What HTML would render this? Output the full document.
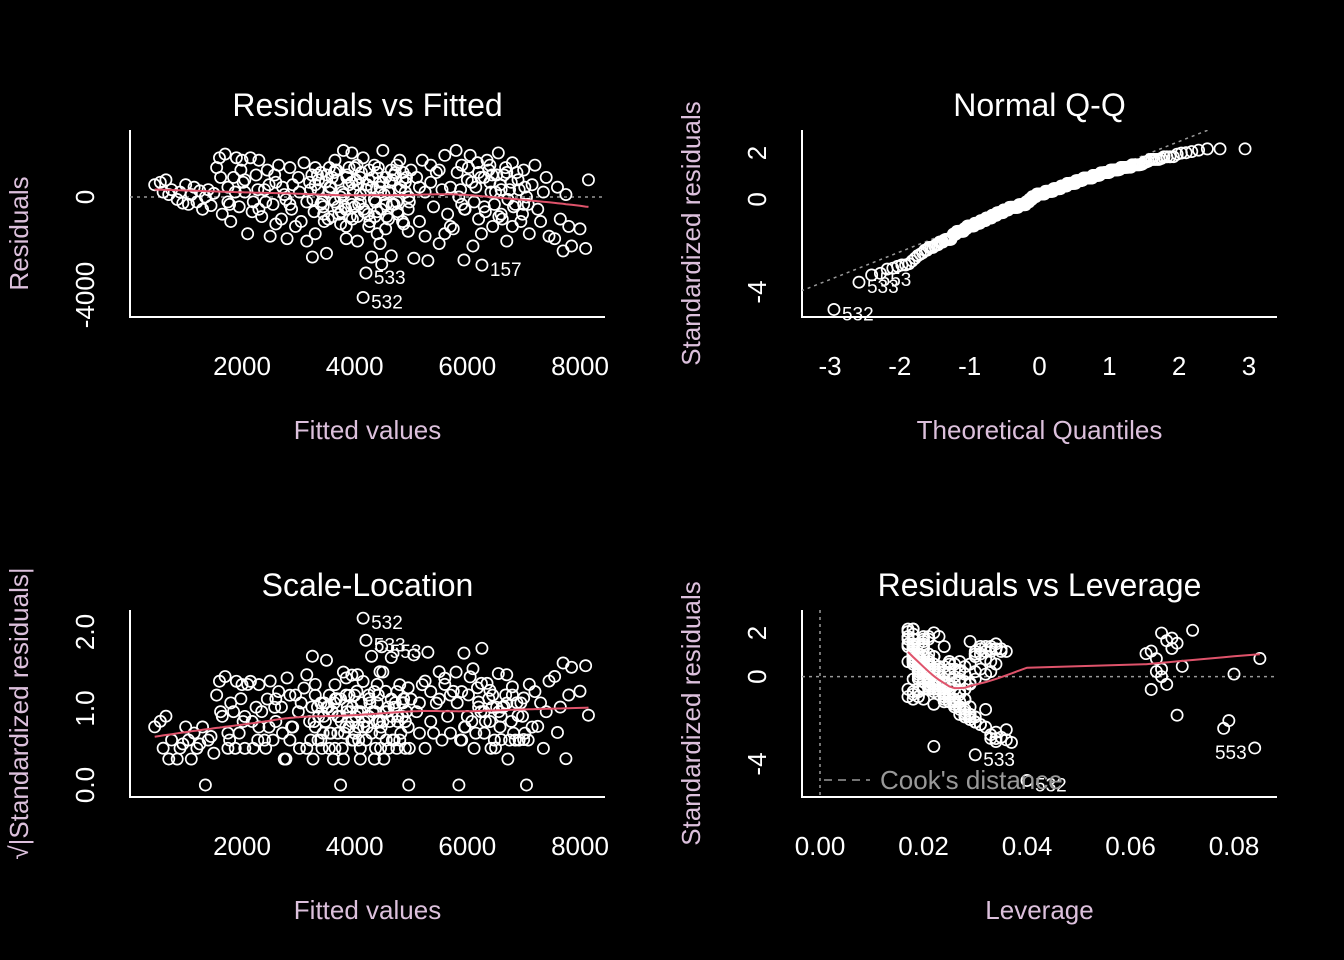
<!DOCTYPE html>
<html><head><meta charset="utf-8"><style>
html,body{margin:0;padding:0;background:#000;}
svg{display:block;font-family:"Liberation Sans",Arial,sans-serif;}
</style></head><body>
<svg id="chart" width="1344" height="960" viewBox="0 0 1344 960">
<rect x="0" y="0" width="1344" height="960" fill="#000"/>
</svg>
<script>
// ---- data (labelled observations first) ----
const obsNames = ['532','533','157','553'];
const sigma = 880;
const fitted = [4150,4200,6259,4480,
 450,550,650,750,850,900,1000,1050,1100,1150,1200,1250,1300,1350,1400,1450,700,950,1500,600,
 1550,1600,1650,1700,1750,1800,1850,1900,1950,2000,2050,2100,2150,2200,2250,2300,2350,2400,2450,2500,2550,2600,2650,2700,2750,2800,2850,2900,2950,3000,1750,2050,2300,2600,2850,
 3050,3100,3150,3200,3250,3300,3350,3400,3450,3500,3550,3600,3650,3700,3750,3800,3850,3900,3950,4000,4050,4100,4250,4300,4350,4400,4450,4500,4550,4600,4650,4700,4750,4800,4850,4900,4950,5000,
 3300,3500,3700,3900,4100,4300,4500,4700,4900,3400,3600,3800,4000,4200,4400,4600,4800,3550,3750,3950,4150,4350,4550,4750,4950,4050,3850,4450,3150,4250,4650,3300,3650,4100,4400,3950,4850,
 5050,5100,5150,5200,5250,5300,5350,5400,5450,5500,5550,5600,5650,5700,5750,5800,5850,5900,5940,5950,6000,5250,5500,5700,5900,5150,5350,5600,
 6050,6100,6150,6200,6300,6350,6400,6450,6500,6550,6600,6650,6700,6750,6800,6850,6900,6950,7000,7050,7100,7150,7200,7250,7300,7350,7400,7450,6200,6400,6600,6800,7000,6300,6700,6250,
 7550,7600,7700,7800,7850,8000,8100,7650,7750,8150,
 3220,3280,3340,3420,3480,3530,3580,3620,3680,3720,3780,3820,3870,3920,3980,4020,4070,4120,4170,4220,4270,4320,4370,4420,4470,4520,4570,4620,4670,4720,4770,4820,4870,4920,4970,3260,3360,3460,3560,3660,3760,3860,3960,4060,4160,4260,4360,4460,4560,4660,4760,4860,4960,3240,3440,3640,3840,4040,4240,4440,
 5820,5880,5960,6020,6080,6120,6180,6240,6320,6380,6420,6480,6520,6580,6620,6680,6720,6780,6820,6880,6920,6980,7020,7080,1620,1780,1880,2020,2180,2280,2420,2580,2720,2880,3020,1980,2480,2780,6440,6560];
const resid = [-4100,-3100,-2780,-2750,
 500,600,700,300,-100,200,500,-300,100,400,-200,250,-500,0,300,-350,100,-250,150,200,
 1200,1600,-700,1750,400,-1000,800,1600,-400,1500,200,-1500,1600,-200,900,1500,-800,300,1100,-1600,-300,600,1300,-900,100,-1700,-300,500,-1200,800,-200,700,-500,-1100,1200,
 -1000,1400,-200,600,-2450,-1500,300,1000,-700,-2300,200,800,1500,-400,0,1900,-1200,500,-300,1200,-800,100,700,-2450,1300,-600,400,1900,-1300,200,-2400,900,-200,1500,-1000,600,-500,1100,
 500,900,700,1200,800,400,600,-300,200,-300,-800,100,-400,300,1000,-900,300,1200,-1100,600,1600,-100,800,1300,-1400,-1800,-1700,-1900,-1800,-1200,1100,1200,-200,-200,-1500,1800,700,
 -2500,800,-1000,1500,200,-2600,600,-400,1000,-1900,300,1700,-700,400,-1300,1900,0,1300,-2570,-500,700,-1600,1100,-1200,-300,400,1300,-1500,
 1700,-2000,400,1000,-400,1500,600,-1200,200,1800,-700,900,-1800,300,1400,-300,700,-1000,1100,0,-1500,500,1300,-500,-1000,200,800,-1600,-900,1300,300,-1200,-300,800,1000,-1500,
 -1700,400,-2200,-1200,-2000,-1300,-2100,-900,100,700,
 300,-600,900,-200,600,-900,400,-100,1100,-700,200,-400,900,-800,300,700,-300,1000,-600,500,-1000,800,-200,1200,-500,100,-800,600,-300,1000,-700,400,-1100,800,-200,-100,700,-1000,400,1100,-600,800,-900,500,-500,1100,-800,200,-300,700,-600,1000,0,900,-400,1000,-500,1300,-700,600,
 1000,300,-500,1200,600,-200,1400,800,-600,1100,200,-300,900,500,-900,1200,-100,600,-400,1000,300,-700,400,-300,800,-300,200,600,-600,300,-200,900,400,-500,200,1100,500,-100,900,-800];
const leverage = [.040,.030,.022,.084,
 .034,.033,.032,.031,.030,.030,.029,.029,.028,.028,.027,.027,.026,.026,.026,.025,.032,.029,.025,.033,
 .024,.023,.025,.022,.024,.026,.022,.021,.024,.021,.023,.027,.020,.023,.021,.020,.025,.022,.020,.028,.023,.021,.020,.026,.022,.029,.023,.021,.027,.020,.024,.021,.024,.026,.020,
 .026,.020,.022,.019,.034,.028,.019,.018,.024,.033,.019,.018,.018,.021,.019,.018,.026,.018,.021,.018,.024,.019,.018,.033,.018,.022,.019,.017,.027,.019,.035,.018,.020,.017,.025,.018,.022,.018,
 .019,.018,.018,.017,.018,.019,.018,.021,.019,.021,.024,.019,.022,.019,.018,.024,.019,.018,.026,.018,.017,.020,.018,.017,.028,.030,.029,.031,.030,.027,.018,.018,.021,.021,.029,.017,.018,
 .036,.019,.025,.018,.020,.037,.019,.022,.018,.031,.020,.018,.024,.020,.028,.018,.021,.018,.034,.023,.019,.029,.018,.027,.022,.020,.018,.029,
 .066,.032,.020,.064,.022,.068,.020,.026,.065,.072,.024,.063,.030,.021,.067,.023,.065,.027,.068,.066,.029,.020,.019,.064,.027,.021,.019,.030,.026,.069,.066,.027,.067,.020,.018,.069,
 .079,.070,.034,.029,.078,.032,.036,.028,.080,.085,
 .022,.018,.031,.020,.017,.028,.021,.019,.034,.018,.027,.020,.030,.019,.025,.018,.022,.033,.019,.021,.026,.018,.024,.032,.017,.023,.019,.027,.021,.035,.025,.020,.022,.030,.028,.021,.018,.024,.020,.031,.019,.022,.018,.025,.020,.033,.017,.027,.021,.019,.024,.036,.026,.030,.022,.032,.028,.034,.023,.021,
 .030,.023,.021,.033,.025,.020,.029,.022,.027,.035,.024,.021,.018,.026,.020,.031,.018,.025,.021,.032,.023,.027,.020,.024,.020,.026,.022,.019,.024,.021,.028,.018,.023,.025,.020,.034,.022,.027,.019,.024];
const fitTicks = [2000,4000,6000,8000];
const residTicks = [0,-4000];
const qTicks = [-3,-2,-1,0,1,2,3];
const stdTicks = [2,0,-4];
const sqrtTicks = [0,1,2];
const sqrtTickLabels = ['0.0','1.0','2.0'];
const levTicks = [0,0.02,0.04,0.06,0.08];
const levTickLabels = ['0.00','0.02','0.04','0.06','0.08'];

// ---- helpers ----
const svg = document.getElementById('chart');
const NS = 'http://www.w3.org/2000/svg';
function mk(tag, attrs, parent){const e=document.createElementNS(NS,tag);for(const k in attrs)e.setAttribute(k,attrs[k]);(parent||svg).appendChild(e);return e;}
function lin(d0,d1,r0,r1){return v=>r0+(v-d0)*(r1-r0)/(d1-d0);}
function qnorm(p){const a=[-39.69683028665376,220.9460984245205,-275.9285104469687,138.357751867269,-30.66479806614716,2.506628277459239],b=[-54.47609879822406,161.5858368580409,-155.6989798598866,66.80131188771972,-13.28068155288572],c=[-0.007784894002430293,-0.3223964580411365,-2.400758277161838,-2.549732539343734,4.374664141464968,2.938163982698783],d=[0.007784695709041462,0.3224671290700398,2.445134137142996,3.754408661907416];const pl=0.02425;let q,r;if(p<pl){q=Math.sqrt(-2*Math.log(p));return(((((c[0]*q+c[1])*q+c[2])*q+c[3])*q+c[4])*q+c[5])/((((d[0]*q+d[1])*q+d[2])*q+d[3])*q+1);}if(p>1-pl){q=Math.sqrt(-2*Math.log(1-p));return-(((((c[0]*q+c[1])*q+c[2])*q+c[3])*q+c[4])*q+c[5])/((((d[0]*q+d[1])*q+d[2])*q+d[3])*q+1);}q=p-0.5;r=q*q;return(((((a[0]*r+a[1])*r+a[2])*r+a[3])*r+a[4])*r+a[5])*q/(((((b[0]*r+b[1])*r+b[2])*r+b[3])*r+b[4])*r+1);}
function median(a){const s=[...a].sort((p,q)=>p-q);const m=s.length>>1;return s.length%2?s[m]:(s[m-1]+s[m])/2;}
function lowess(x,y,f,iter){
  const n=x.length;const ord=x.map((v,i)=>i).sort((a,b)=>x[a]-x[b]);
  const xs=ord.map(i=>x[i]),ys=ord.map(i=>y[i]);
  const k=Math.max(2,Math.ceil(f*n));let rw=new Array(n).fill(1);let fit=new Array(n).fill(0);
  for(let it=0;it<=iter;it++){
    for(let i=0;i<n;i++){
      const dist=xs.map(v=>Math.abs(v-xs[i]));const h=Math.max([...dist].sort((a,b)=>a-b)[k-1],1e-12);
      let sw=0,sx=0,sy=0,sxx=0,sxy=0;
      for(let j=0;j<n;j++){const u=dist[j]/h;if(u>=1)continue;const w=Math.pow(1-u*u*u,3)*rw[j];sw+=w;sx+=w*xs[j];sy+=w*ys[j];sxx+=w*xs[j]*xs[j];sxy+=w*xs[j]*ys[j];}
      if(sw<=0){fit[i]=ys[i];continue;}
      const mx=sx/sw,my=sy/sw,vx=sxx/sw-mx*mx;
      fit[i]=vx>1e-12*(1+mx*mx)?my+(sxy/sw-mx*my)/vx*(xs[i]-mx):my;
    }
    if(it===iter)break;
    const e=ys.map((v,i)=>v-fit[i]);const m=median(e.map(Math.abs))*6;
    rw=e.map(v=>{const u=Math.abs(v)/m;return u<1?Math.pow(1-u*u,2):0;});
  }
  return xs.map((v,i)=>[v,fit[i]]);
}
const TXT='#ffffff', LAB='#dcc0dc', RED='#df536b';

function panel(o){
  const g=mk('g',{});
  
  
  const L=o.box[0],T=o.box[1],R=o.box[2],B=o.box[3];
  const t=mk('text',{x:(L+R)/2,y:o.titleY,'font-size':32,fill:TXT,'text-anchor':'middle'},g);t.textContent=o.title;
  
  const ax=mk('path',{d:`M${L},${T}V${B}H${R}`,stroke:'#fff','stroke-width':2,fill:'none'},g);
  
  o.xt.forEach((v,i)=>{const e=mk('text',{x:o.sx(v),y:B+58,'font-size':26,fill:TXT,'text-anchor':'middle'},g);e.textContent=o.xl?o.xl[i]:String(v);
    });
  o.yt.forEach((v,i)=>{const y=o.sy(v);const e=mk('text',{x:0,y:0,'font-size':26,fill:TXT,'text-anchor':'middle',transform:`translate(${L-36},${y}) rotate(-90)`},g);e.textContent=o.yl?o.yl[i]:String(v);
    });
  const xl=mk('text',{x:(L+R)/2,y:B+122,'font-size':26,fill:LAB,'text-anchor':'middle'},g);xl.textContent=o.xlab;
  
  const yl=mk('text',{x:0,y:0,'font-size':26,fill:LAB,'text-anchor':'middle',transform:`translate(${o.ylabX},${(T+B)/2+10}) rotate(-90)`},g);yl.textContent=o.ylab;
  
  return g;
}
function points(g,xs,ys,sx,sy,name){
  const pg=mk('g',{},g);
  for(let i=0;i<xs.length;i++){const c=mk('circle',{cx:sx(xs[i]),cy:sy(ys[i]),r:5.6,fill:'none',stroke:'#fff','stroke-width':1.7},pg);
    }
}
function labels(g,idx,xs,ys,sx,sy,leftIf){
  idx.forEach(i=>{if(i>=obsNames.length)return;const x=sx(xs[i]),y=sy(ys[i]);const left=leftIf&&leftIf(x);
    const e=mk('text',{x:left?x-8:x+8,y:y+11,'font-size':19,fill:TXT,'text-anchor':left?'end':'start'},g);e.textContent=obsNames[i];
    });
}
function line(g,pts,sx,sy,name){const d=pts.map((p,i)=>(i?'L':'M')+sx(p[0]).toFixed(1)+','+sy(p[1]).toFixed(1)).join('');
  const e=mk('path',{d,stroke:RED,'stroke-width':2,fill:'none'},g);}
function top3(vals){return vals.map((v,i)=>[Math.abs(v),i]).sort((a,b)=>b[0]-a[0]).slice(0,3).map(a=>a[1]);}

const n=fitted.length;
const stdr=resid.map((r,i)=>r/(sigma*Math.sqrt(1-leverage[i])));

// Panel 1
{const sx=lin(2000,8000,242,580),sy=lin(0,-4000,197,295);
 const g=panel({name:'residuals-vs-fitted-panel',box:[130,130,605,317],title:'Residuals vs Fitted',titleY:116,xt:fitTicks,yt:residTicks,sx,sy,xlab:'Fitted values',ylab:'Residuals',ylabX:28});
 const z=mk('line',{x1:130,x2:605,y1:sy(0),y2:sy(0),stroke:'#999','stroke-width':1.5,'stroke-dasharray':'3,4'},g);
 points(g,fitted,resid,sx,sy,'residual-points');
 line(g,lowess(fitted,resid,2/3,3),sx,sy,'smoother-line');
 labels(g,top3(resid),fitted,resid,sx,sy);}

// Panel 2
{const sx=lin(-3,3,830,1249),sy=lin(2,-4,153,292);
 const g=panel({name:'normal-qq-panel',box:[802,130,1277,317],title:'Normal Q-Q',titleY:116,xt:qTicks,yt:stdTicks,sx,sy,xlab:'Theoretical Quantiles',ylab:'Standardized residuals',ylabX:700});
 const order=stdr.map((v,i)=>i).sort((a,b)=>stdr[a]-stdr[b]);
 const th=new Array(n);order.forEach((i,k)=>{th[i]=qnorm((k+1-0.5)/n);});
 const q1=stdr[order[Math.floor(n*0.25)]],q3=stdr[order[Math.floor(n*0.75)]];
 const sl=(q3-q1)/(qnorm(0.75)-qnorm(0.25)),ic=q1-sl*qnorm(0.25);
 const xa=-3.6,xb=3.6;
 const cp=mk('clipPath',{id:'qqclip'},g);mk('rect',{x:802,y:130,width:475,height:187},cp);
 const ql=mk('line',{x1:sx(xa),y1:sy(ic+sl*xa),x2:sx(xb),y2:sy(ic+sl*xb),stroke:'#999','stroke-width':1.5,'stroke-dasharray':'3,4','clip-path':'url(#qqclip)'},g);
 
 points(g,th,stdr,sx,sy,'qq-points');
 labels(g,top3(stdr),th,stdr,sx,sy);}

// Panel 3
{const sx=lin(2000,8000,242,580),sy=lin(0,2,785,632);
 const sq=stdr.map(v=>Math.sqrt(Math.abs(v)));
 const g=panel({name:'scale-location-panel',box:[130,610,605,797],title:'Scale-Location',titleY:596,xt:fitTicks,yt:sqrtTicks,yl:sqrtTickLabels,sx,sy,xlab:'Fitted values',ylab:'√|Standardized residuals|',ylabX:28});
 points(g,fitted,sq,sx,sy,'scale-location-points');
 line(g,lowess(fitted,sq,2/3,3),sx,sy,'smoother-line');
 labels(g,top3(stdr),fitted,sq,sx,sy);}

// Panel 4
{const sx=lin(0,0.08,820,1234),sy=lin(2,-4,633,764);
 const g=panel({name:'residuals-vs-leverage-panel',box:[802,610,1277,797],title:'Residuals vs Leverage',titleY:596,xt:levTicks,xl:levTickLabels,yt:stdTicks,sx,sy,xlab:'Leverage',ylab:'Standardized residuals',ylabX:700});
 const h=mk('line',{x1:802,x2:1277,y1:sy(0),y2:sy(0),stroke:'#999','stroke-width':1.5,'stroke-dasharray':'3,4'},g);
 const v=mk('line',{x1:sx(0),x2:sx(0),y1:610,y2:797,stroke:'#999','stroke-width':1.5,'stroke-dasharray':'3,4'},g);
 points(g,leverage,stdr,sx,sy,'leverage-points');
 line(g,lowess(leverage,stdr,2/3,3),sx,sy,'smoother-line');
 labels(g,top3(stdr),leverage,stdr,sx,sy,x=>x>1100);
 const lg=mk('g',{},g);
 mk('line',{x1:824,x2:870,y1:780,y2:780,stroke:'#999','stroke-width':1.5,'stroke-dasharray':'8,6'},lg);
 const lt=mk('text',{x:880,y:789,'font-size':26,fill:'#999'},lg);lt.textContent="Cook's distance";}
</script>
</body></html>
